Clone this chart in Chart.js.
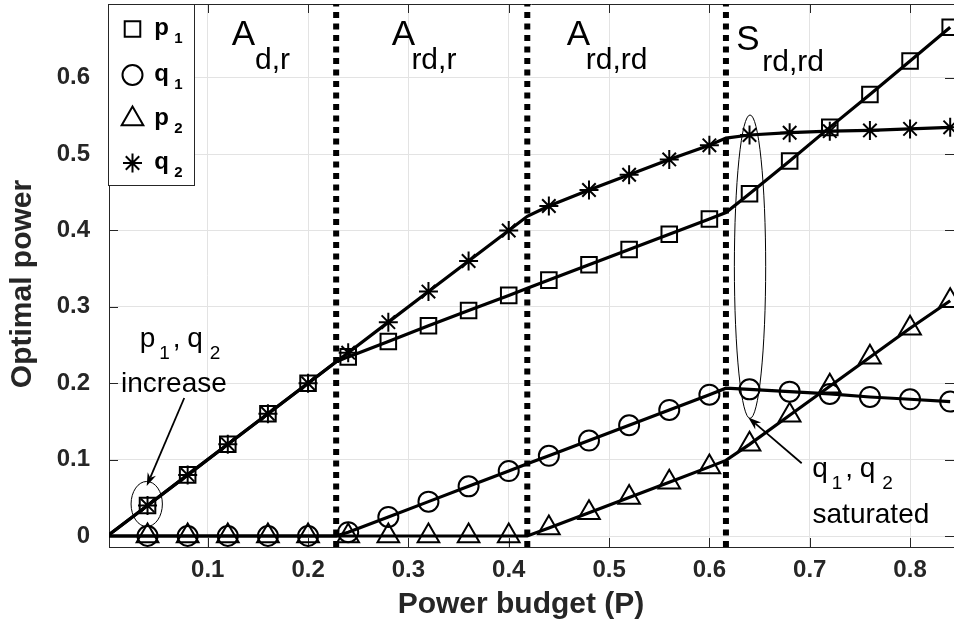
<!DOCTYPE html>
<html>
<head>
<meta charset="utf-8">
<script src="https://cdn.jsdelivr.net/npm/chart.js@4.4.1/dist/chart.umd.min.js"></script>
<style>
  html, body { margin: 0; padding: 0; background: #fff; }
  #wrap { width: 954px; height: 630px; position: relative; }
</style>
</head>
<body>
<div id="wrap"><canvas id="c" width="954" height="630"></canvas></div>
<script>
// Power budget P (includes the three regime boundaries, where lines bend)
const budget = [0, 0.04, 0.08, 0.12, 0.16, 0.20, 0.228, 0.24, 0.28, 0.32, 0.36, 0.40, 0.4185,
                0.44, 0.48, 0.52, 0.56, 0.60, 0.6165, 0.64, 0.68, 0.72, 0.76, 0.80, 0.84];
// regime boundaries (dotted lines); no marker is drawn there
const regionBounds = [0.228, 0.4185, 0.6165];

// optimal powers
const p1 = [0, 0.04, 0.08, 0.12, 0.16, 0.20, 0.228, 0.2345, 0.2547, 0.2752, 0.2953, 0.315, 0.3243,
            0.335, 0.355, 0.375, 0.395, 0.415, 0.4235, 0.448, 0.491, 0.535, 0.578, 0.622, 0.666];
const q1 = [0, 0, 0, 0, 0, 0, 0, 0.005, 0.025, 0.045, 0.065, 0.085, 0.0945,
            0.105, 0.125, 0.145, 0.165, 0.185, 0.1935, 0.192, 0.189, 0.186, 0.182, 0.179, 0.176];
const p2 = [0, 0, 0, 0, 0, 0, 0, 0, 0, 0, 0, 0, 0,
            0.0105, 0.0305, 0.0505, 0.0705, 0.0905, 0.099, 0.12, 0.158, 0.196, 0.234, 0.272, 0.308];
const q2 = [0, 0.04, 0.08, 0.12, 0.16, 0.20, 0.228, 0.24, 0.28, 0.32, 0.36, 0.40, 0.4185,
            0.432, 0.453, 0.473, 0.493, 0.5115, 0.521, 0.525, 0.528, 0.530, 0.531, 0.533, 0.535];

const seriesLetters = ['p', 'q', 'p', 'q'];
const seriesIndex = ['1', '1', '2', '2'];

const xTicks = [0.1, 0.2, 0.3, 0.4, 0.5, 0.6, 0.7, 0.8];
const yTicks = [0, 0.1, 0.2, 0.3, 0.4, 0.5, 0.6];
const xMin = 0.0016, xMax = 0.8438;
const yMin = -0.0144, yMax = 0.6965;

const regionNames = [
  { main: 'A', sub: 'd,r',   x: 0.1239, y: 0.6428, gap: 0,    subDy: 24.3 },
  { main: 'A', sub: 'rd,r',  x: 0.2834, y: 0.6428, gap: -3.7, subDy: 24.3 },
  { main: 'A', sub: 'rd,rd', x: 0.4578, y: 0.6428, gap: -4.3, subDy: 24.3 },
  { main: 'S', sub: 'rd,rd', x: 0.6268, y: 0.6362, gap: 2.6,  subDy: 20.5 }
];

const FONT = "'Liberation Sans', Arial, Helvetica, sans-serif";
const AXIS_COLOR = '#262626';

function toXY(ys) { return budget.map((b, i) => ({ x: b, y: ys[i] })); }
function isBend(v) { return v === 0 || regionBounds.includes(v); }

function series(label, ys, style, radius, order) {
  return {
    label, data: toXY(ys), order,
    borderColor: '#000', borderWidth: 3.2, tension: 0,
    pointStyle: style,
    pointRadius: ctx => (ctx.raw && isBend(ctx.raw.x)) ? 0 : radius,
    pointBorderWidth: 2, pointBorderColor: '#000',
    pointBackgroundColor: 'rgba(0,0,0,0)',
    pointHoverRadius: 0
  };
}

const boundaryLines = regionBounds.map(b => ({
  label: 'boundary', order: 10,
  data: [{ x: b, y: yMin }, { x: b, y: yMax }],
  borderColor: '#000', borderWidth: 6, borderDash: [6, 5.5], borderCapStyle: 'butt',
  pointRadius: 0, clip: 0
}));

const markerStyles = ['rect', 'circle', 'triangle', 'star'];
const markerSizes = [11, 10, 12.5, 9.5];

// ---- drawing helpers ----
function drawMarker(ctx, style, r, x, y) {
  ctx.beginPath();
  if (style === 'rect') {
    const s = Math.SQRT1_2 * r;
    ctx.rect(x - s, y - s, 2 * s, 2 * s);
  } else if (style === 'circle') {
    ctx.arc(x, y, r, 0, Math.PI * 2);
  } else if (style === 'triangle') {
    for (let k = 0; k < 3; k++) {
      const a = k * 2 * Math.PI / 3;
      const px = x + Math.sin(a) * r, py = y - Math.cos(a) * r;
      if (k === 0) ctx.moveTo(px, py); else ctx.lineTo(px, py);
    }
    ctx.closePath();
  } else if (style === 'star') {
    const d = Math.SQRT1_2 * r;
    ctx.moveTo(x, y - r); ctx.lineTo(x, y + r);
    ctx.moveTo(x - r, y); ctx.lineTo(x + r, y);
    ctx.moveTo(x - d, y - d); ctx.lineTo(x + d, y + d);
    ctx.moveTo(x - d, y + d); ctx.lineTo(x + d, y - d);
  }
  ctx.stroke();
}

function drawParts(ctx, x, y, parts) {
  parts.forEach(p => { ctx.font = p.font; ctx.fillText(p.t, x + p.dx, y + p.dy); });
}

function drawArrow(ctx, x1, y1, x2, y2) {
  const a = Math.atan2(y2 - y1, x2 - x1), c = Math.cos(a), s = Math.sin(a);
  const L = 13, W = 4.5, N = 9;
  ctx.beginPath();
  ctx.moveTo(x1, y1); ctx.lineTo(x2 - c * N, y2 - s * N); ctx.stroke();
  ctx.beginPath();
  ctx.moveTo(x2, y2);
  ctx.lineTo(x2 - L * c + W * s, y2 - L * s - W * c);
  ctx.lineTo(x2 - N * c, y2 - N * s);
  ctx.lineTo(x2 - L * c - W * s, y2 - L * s + W * c);
  ctx.closePath(); ctx.fill();
}

const reg28 = '28px ' + FONT, reg19 = '19px ' + FONT;
function pairLabel(a) {
  return [
    { t: a, font: reg28, dx: 0, dy: 0 },
    { t: '1', font: reg19, dx: 19.5, dy: 12 },
    { t: ',', font: reg28, dx: 33, dy: 0 },
    { t: 'q', font: reg28, dx: 47.5, dy: 0 },
    { t: '2', font: reg19, dx: 70, dy: 12 }
  ];
}

// the axes own no extra margins: the plot area is fixed by the axis boxes
function noPadding(s) { s.paddingTop = s.paddingBottom = s.paddingLeft = s.paddingRight = 0; }

const frame = {
  id: 'frame',
  beforeDatasetsDraw(chart) {
    const { ctx, chartArea: a, scales } = chart;
    ctx.save();
    ctx.strokeStyle = AXIS_COLOR; ctx.lineWidth = 1;
    ctx.beginPath();
    ctx.moveTo(a.left, a.top + 0.5); ctx.lineTo(a.right, a.top + 0.5);
    const tl = 9;
    xTicks.forEach(v => {
      const px = Math.round(scales.x.getPixelForValue(v)) + 0.5;
      ctx.moveTo(px, a.bottom); ctx.lineTo(px, a.bottom - tl);
      ctx.moveTo(px, a.top); ctx.lineTo(px, a.top + tl);
    });
    yTicks.forEach(v => {
      const py = Math.round(scales.y.getPixelForValue(v)) + 0.5;
      ctx.moveTo(a.left, py); ctx.lineTo(a.left + tl, py);
      ctx.moveTo(a.right, py); ctx.lineTo(a.right - tl, py);
    });
    ctx.stroke();
    ctx.restore();
  },
  afterDatasetsDraw(chart) {
    const { ctx, scales } = chart;
    const X = v => scales.x.getPixelForValue(v), Y = v => scales.y.getPixelForValue(v);
    ctx.save();
    ctx.fillStyle = '#000'; ctx.strokeStyle = '#000';
    ctx.textAlign = 'left'; ctx.textBaseline = 'alphabetic';

    // regime names
    regionNames.forEach(r => {
      ctx.font = '35px ' + FONT;
      const x = X(r.x), y = Y(r.y);
      ctx.fillText(r.main, x, y);
      const w = ctx.measureText(r.main).width;
      ctx.font = '30px ' + FONT;
      ctx.fillText(r.sub, x + w + r.gap, y + r.subDy);
    });

    // ellipses around the highlighted points
    ctx.lineWidth = 1;
    [[0.0392, 0.0419, 0.0156, 0.0295], [0.6405, 0.3526, 0.0156, 0.1986]].forEach(e => {
      const cx = X(e[0]), cy = Y(e[1]);
      const rx = X(e[0] + e[2]) - cx, ry = cy - Y(e[1] + e[3]);
      ctx.beginPath(); ctx.ellipse(cx, cy, rx, ry, 0, 0, Math.PI * 2); ctx.stroke();
    });

    // arrows
    ctx.lineWidth = 1.8;
    drawArrow(ctx, X(0.0766), Y(0.1807), X(0.0392), Y(0.0655));
    drawArrow(ctx, X(0.692), Y(0.0952), X(0.6388), Y(0.1551));

    // annotation texts
    const ax = X(0.0323), ay = Y(0.2474);
    drawParts(ctx, ax, ay, pairLabel('p'));
    ctx.font = reg28; ctx.fillText('increase', ax - 18.8, ay + 44.5);
    const bx = X(0.7024), by = Y(0.0776);
    drawParts(ctx, bx, by, pairLabel('q'));
    ctx.font = reg28; ctx.fillText('saturated', bx + 0.4, by + 46);
    ctx.restore();
  },
  afterDraw(chart) {
    const { ctx } = chart;
    ctx.save();
    // axis titles
    ctx.fillStyle = AXIS_COLOR;
    ctx.font = 'bold 30px ' + FONT;
    ctx.textAlign = 'center'; ctx.textBaseline = 'alphabetic';
    ctx.fillText('Power budget (P)', 521, 613);
    ctx.translate(31, 284); ctx.rotate(-Math.PI / 2);
    ctx.fillText('Optimal power', 0, 0);
    ctx.restore();

    // legend
    ctx.save();
    const L = 108.5, T = 4.5, W = 86, H = 181;
    ctx.fillStyle = '#fff'; ctx.fillRect(L, T, W, H);
    ctx.strokeStyle = AXIS_COLOR; ctx.lineWidth = 1; ctx.strokeRect(L, T, W, H);
    const rows = [29, 75, 119, 163];
    ctx.fillStyle = '#000'; ctx.strokeStyle = '#000'; ctx.lineWidth = 2;
    ctx.textAlign = 'left'; ctx.textBaseline = 'alphabetic';
    rows.forEach((cy, i) => {
      drawMarker(ctx, markerStyles[i], markerSizes[i], 132.5, cy);
      ctx.font = 'bold 24px ' + FONT;
      ctx.fillText(seriesLetters[i], 154.3, cy + 6);
      ctx.font = 'bold 15px ' + FONT;
      ctx.fillText(seriesIndex[i], 174.2, cy + 14.3);
    });
    ctx.restore();
  }
};

const tickFont = { family: FONT, size: 24, weight: 'bold' };

new Chart(document.getElementById('c'), {
  type: 'line',
  data: {
    datasets: [
      series('p1', p1, 'rect', markerSizes[0], 4),
      series('q1', q1, 'circle', markerSizes[1], 3),
      series('p2', p2, 'triangle', markerSizes[2], 2),
      series('q2', q2, 'star', markerSizes[3], 1),
      ...boundaryLines
    ]
  },
  options: {
    responsive: false, animation: false, devicePixelRatio: 1,
    layout: { autoPadding: false, padding: { top: 4, left: 0, right: 0, bottom: 0 } },
    plugins: { legend: { display: false }, tooltip: { enabled: false } },
    events: [],
    scales: {
      x: {
        type: 'linear', min: xMin, max: xMax,
        afterBuildTicks: s => { s.ticks = xTicks.map(v => ({ value: v })); },
        afterFit: s => { s.height = 83; noPadding(s); },
        grid: { color: '#e3e3e3', drawTicks: false },
        border: { color: AXIS_COLOR, width: 1 },
        ticks: { padding: 9, font: tickFont, color: AXIS_COLOR, autoSkip: false, maxRotation: 0,
                 callback: v => v.toFixed(1) }
      },
      y: {
        type: 'linear', min: yMin, max: yMax,
        afterBuildTicks: s => { s.ticks = yTicks.map(v => ({ value: v })); },
        afterFit: s => { s.width = 109; noPadding(s); },
        grid: { color: '#e3e3e3', drawTicks: false },
        border: { color: AXIS_COLOR, width: 1 },
        ticks: { padding: 19, font: tickFont, color: AXIS_COLOR, autoSkip: false,
                 callback: v => (v === 0 ? '0' : v.toFixed(1)) }
      }
    }
  },
  plugins: [frame]
});
</script>
</body>
</html>
